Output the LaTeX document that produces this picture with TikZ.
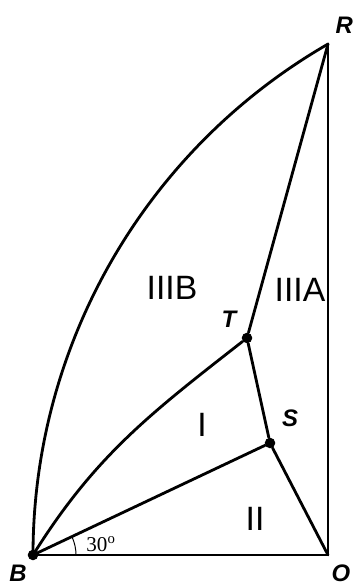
\documentclass[tikz,border=0pt]{standalone}
\usepackage{fontspec}
\setmainfont{Liberation Serif}
\setsansfont{Liberation Sans}
\usetikzlibrary{calc}

\begin{document}
\begin{tikzpicture}[
  edge/.style={line width=2pt, line cap=round, line join=round},
  junction/.style={circle, fill, inner sep=0pt, minimum size=7.5pt},
  ptlabel/.style={font=\sffamily\bfseries\itshape\fontsize{17}{18}\selectfont, inner sep=0pt},
  region/.style={font=\sffamily\fontsize{24}{26}\selectfont, inner sep=0pt}]
\useasboundingbox (-0.825,-0.8) rectangle (8.05,13.875);
% corner points
\coordinate (B) at (0,0);
\coordinate (O) at (7.375,0);
\coordinate (R) at (7.375,12.774);
\node[junction] (T) at (5.35,5.425) {};
\node[junction] (S) at (5.925,2.8) {};
\node[junction] (Bdot) at (B) {};
% boundary
\draw[edge] (B) -- (O) -- (R);
\draw[edge] (B) arc[start angle=180, end angle=120, radius=14.75];
% inner lines
\draw[edge] (B) to[out=58, in=218] (T);
\draw[edge] (T) -- (R);
\draw[edge] (T) -- (S);
\draw[edge] (B) -- (S);
\draw[edge] (S) -- (O);
% angle mark
\draw[line width=0.7pt] ($(B)+(1.075,0)$) arc[start angle=0, end angle=25.3, radius=1.075];
\node[font=\fontsize{15}{16}\selectfont, inner sep=0pt] (ang) at (1.7,0.27) {30\textsuperscript{o}};
% labels
\node[ptlabel] (labB) at (-0.375,-0.46) {B};
\node[ptlabel] (labO) at (7.7,-0.46) {O};
\node[ptlabel] (labR) at (7.78,13.25) {R};
\node[ptlabel] (labT) at (4.9,5.9) {T};
\node[ptlabel] (labS) at (6.425,3.425) {S};
\node[region] (IIIB) at (3.475,6.675) {IIIB};
\node[region] (IIIA) at (6.675,6.625) {IIIA};
\node[region] (I) at (4.225,3.25) {I};
\node[region] (II) at (5.55,0.9) {II};
\end{tikzpicture}
\end{document}
